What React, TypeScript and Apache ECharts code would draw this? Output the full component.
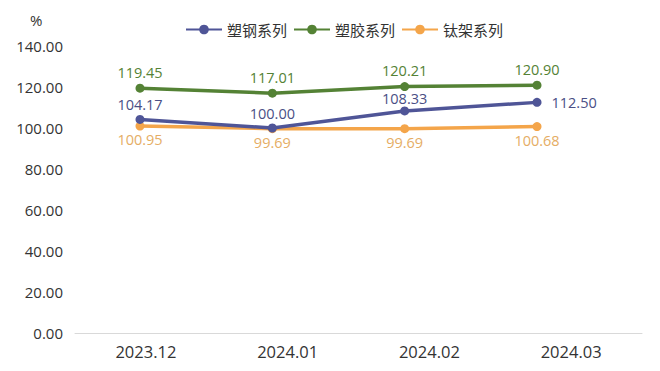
import React, { useEffect, useRef } from "react";
import * as echarts from "echarts";

const categories = ["2023.12", "2024.01", "2024.02", "2024.03"];
const seriesNames = ["塑钢系列", "塑胶系列", "钛架系列"];
const plasticSteel = [104.17, 100.0, 108.33, 112.5];
const plasticGlue = [119.45, 117.01, 120.21, 120.9];
const titaniumFrame = [100.95, 99.69, 99.69, 100.68];
const yTicks = { min: 0, max: 140, interval: 20 };

const FONT = "'Open Sans', 'Noto Sans CJK SC', sans-serif";
const CJK = "'Noto Sans CJK SC', sans-serif";
const BLUE = "#4f5597";
const GREEN = "#548235";
const ORANGE = "#f4a54a";

export default function App() {
  const ref = useRef<HTMLDivElement>(null);
  useEffect(() => {
    if (!ref.current) return;
    const chart = echarts.init(ref.current, undefined, { renderer: "svg" });
    const label = (color: string, position: string, distance = 5) => ({
      show: true,
      color,
      fontSize: 14.5,
      fontFamily: FONT,
      position,
      distance,
      formatter: (p: any) => Number(p.value).toFixed(2),
    });
    chart.setOption({
      animation: false,
      backgroundColor: "#ffffff",
      textStyle: { fontFamily: FONT },
      legend: {
        top: 17,
        left: 180,
        itemWidth: 36,
        itemHeight: 12,
        itemGap: 6,
        textStyle: { fontSize: 15, color: "#333", fontFamily: CJK },
        data: seriesNames,
      },
      graphic: [
        {
          type: "text",
          left: 30,
          top: 12,
          style: { text: "%", fontSize: 15, fill: "#333", fontFamily: FONT },
        },
      ],
      grid: [
        { left: 75, right: 18, top: 46, bottom: 38 },
        { left: 140, right: 123, top: 46, bottom: 38 },
      ],
      xAxis: [
        {
          type: "category",
          gridIndex: 0,
          data: categories,
          boundaryGap: true,
          axisLine: { lineStyle: { color: "#d9d9d9", width: 1 } },
          axisTick: { show: false },
          axisLabel: { color: "#333", fontSize: 16.5, fontFamily: FONT, margin: 10 },
        },
        {
          type: "category",
          gridIndex: 1,
          data: categories,
          boundaryGap: false,
          show: false,
        },
      ],
      yAxis: [
        {
          type: "value",
          gridIndex: 0,
          min: yTicks.min,
          max: yTicks.max,
          interval: yTicks.interval,
          axisLine: { show: false },
          axisTick: { show: false },
          splitLine: { show: false },
          axisLabel: {
            color: "#333",
            fontSize: 15,
            fontFamily: FONT,
            margin: 12,
            formatter: (v: number) => v.toFixed(2),
          },
        },
        {
          type: "value",
          gridIndex: 1,
          min: yTicks.min,
          max: yTicks.max,
          interval: yTicks.interval,
          show: false,
          splitLine: { show: false },
        },
      ],
      series: [
        {
          name: seriesNames[0],
          type: "line",
          xAxisIndex: 1,
          yAxisIndex: 1,
          data: plasticSteel.map((v, i) => ({
            value: v,
            label:
              i === 3
                ? { position: "right", distance: 10 }
                : i === 2
                ? { position: "top", distance: 1 }
                : { position: "top", distance: 3 },
          })),
          color: BLUE,
          symbol: "circle",
          symbolSize: 9,
          lineStyle: { width: 3.5, color: BLUE },
          itemStyle: { color: BLUE },
          label: label("#4a4f85", "top"),
          z: 3,
        },
        {
          name: seriesNames[1],
          type: "line",
          xAxisIndex: 1,
          yAxisIndex: 1,
          data: plasticGlue,
          color: GREEN,
          symbol: "circle",
          symbolSize: 9,
          lineStyle: { width: 3.5, color: GREEN },
          itemStyle: { color: GREEN },
          label: label(GREEN, "top", 4),
          z: 3,
        },
        {
          name: seriesNames[2],
          type: "line",
          xAxisIndex: 1,
          yAxisIndex: 1,
          data: titaniumFrame,
          color: ORANGE,
          symbol: "circle",
          symbolSize: 9,
          lineStyle: { width: 3.5, color: ORANGE },
          itemStyle: { color: ORANGE },
          label: label("#e5ad64", "bottom", 2),
          z: 2,
        },
      ],
    });
    return () => chart.dispose();
  }, []);
  return <div ref={ref} style={{ width: 660, height: 371, margin: -8 }} />;
}
